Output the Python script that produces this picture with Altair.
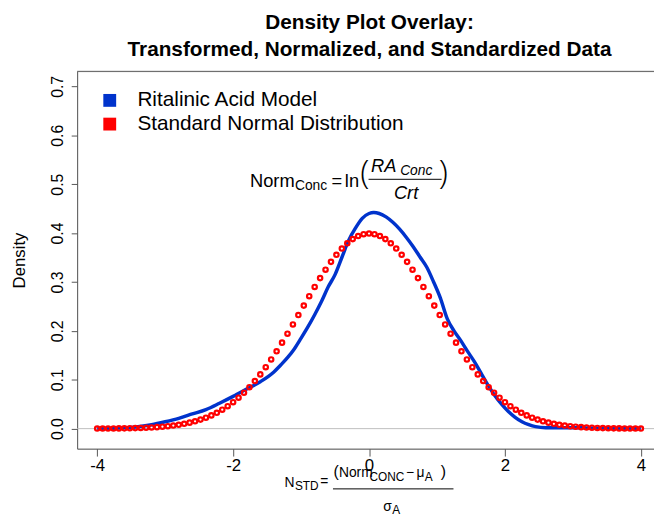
import altair as alt
import pandas as pd

# ---------------- data ----------------
# Standard normal density, sampled at x = -4 .. 4 step 0.08 (red open circles)
norm_x = [round(-4 + 0.08 * i, 2) for i in range(101)]
norm_y = [
    0.00013, 0.00018, 0.00025, 0.00034, 0.00046, 0.00061, 0.00081, 0.00107, 0.00141, 0.00184,
    0.00238, 0.00307, 0.00393, 0.00499, 0.00631, 0.00792, 0.00987, 0.01223, 0.01506, 0.01842,
    0.02239, 0.02705, 0.03246, 0.03871, 0.04586, 0.05399, 0.06316, 0.07340, 0.08477, 0.09728,
    0.11092, 0.12566, 0.14146, 0.15822, 0.17585, 0.19419, 0.21307, 0.23230, 0.25164, 0.27086,
    0.28969, 0.30785, 0.32506, 0.34105, 0.35553, 0.36827, 0.37903, 0.38762, 0.39387, 0.39767,
    0.39894,
    0.39767, 0.39387, 0.38762, 0.37903, 0.36827, 0.35553, 0.34105, 0.32506, 0.30785, 0.28969,
    0.27086, 0.25164, 0.23230, 0.21307, 0.19419, 0.17585, 0.15822, 0.14146, 0.12566, 0.11092,
    0.09728, 0.08477, 0.07340, 0.06316, 0.05399, 0.04586, 0.03871, 0.03246, 0.02705, 0.02239,
    0.01842, 0.01506, 0.01223, 0.00987, 0.00792, 0.00631, 0.00499, 0.00393, 0.00307, 0.00238,
    0.00184, 0.00141, 0.00107, 0.00081, 0.00061, 0.00046, 0.00034, 0.00025, 0.00018, 0.00013,
]

# Ritalinic Acid Model density (blue line)
ra_x = [-4.0, -3.8, -3.6, -3.4, -3.2, -3.0, -2.8, -2.6, -2.4, -2.2, -2.0, -1.8, -1.6, -1.4,
        -1.3, -1.2, -1.1, -1.0, -0.9, -0.8, -0.7, -0.6, -0.5, -0.4, -0.3, -0.2, -0.1, 0.0,
        0.07, 0.15, 0.25, 0.35, 0.45, 0.55, 0.65, 0.75, 0.85, 0.95, 1.05, 1.15, 1.25, 1.35,
        1.45, 1.55, 1.65, 1.75, 1.85, 1.95, 2.05, 2.15, 2.25, 2.35, 2.45, 2.6, 2.8, 3.0,
        3.2, 3.4, 3.6, 4.0]
ra_y = [0.0, 0.0005, 0.0015, 0.004, 0.008, 0.014, 0.021, 0.030, 0.039, 0.052, 0.066, 0.081,
        0.096, 0.116, 0.130, 0.145, 0.163, 0.185, 0.208, 0.233, 0.260, 0.290, 0.315, 0.350,
        0.385, 0.410, 0.430, 0.440, 0.442, 0.440, 0.433, 0.422, 0.408, 0.391, 0.372, 0.351,
        0.330, 0.300, 0.267, 0.225, 0.200, 0.180, 0.158, 0.137, 0.113, 0.089, 0.068, 0.050,
        0.035, 0.023, 0.014, 0.008, 0.004, 0.002, 0.002, 0.002, 0.0015, 0.001, 0.0005, 0.0]

series_names = ["Ritalinic Acid Model", "Standard Normal Distribution"]
series_colors = ["#0033cc", "#ff0000"]
x_ticks = [-4, -2, 0, 2, 4]
y_ticks = [0.0, 0.1, 0.2, 0.3, 0.4, 0.5, 0.6, 0.7]
title_lines = ["Density Plot Overlay:", "Transformed, Normalized, and Standardized Data"]

ra_df = pd.DataFrame({"x": ra_x, "y": ra_y, "series": series_names[0]})
norm_df = pd.DataFrame({"x": norm_x, "y": norm_y, "series": series_names[1]})
legend_df = pd.DataFrame({"series": series_names})

# ---------------- layout ----------------
W, H = 584, 382
FONT = "Liberation Sans"
AX = "#555555"

xscale = alt.Scale(domain=[-4.295, 4.193], nice=False, zero=False)
yscale = alt.Scale(domain=[-0.041, 0.7307], nice=False, zero=False)
cscale = alt.Scale(domain=series_names, range=series_colors)

x_enc = alt.X("x:Q", scale=xscale, axis=alt.Axis(
    values=x_ticks, labelExpr="datum.value + ''", grid=False, title=None,
    labelFontSize=17, labelFont=FONT, labelColor="#000000", labelPadding=2,
    tickSize=7.5, tickColor=AX, domainColor=AX, labelFlush=False))
y_enc = alt.Y("y:Q", scale=yscale, axis=alt.Axis(
    values=y_ticks, format=".1f", grid=False, title="Density",
    labelFontSize=16, labelFont=FONT, labelColor="#000000", labelAngle=270,
    labelAlign="center", labelBaseline="alphabetic", labelPadding=8.5,
    tickSize=6, tickColor=AX, domainColor=AX,
    titleFont=FONT, titleFontSize=17, titleFontWeight="normal", titleColor="#000000",
    titleAngle=270, titleAlign="center", titleBaseline="alphabetic",
    titleX=-53, titleY=H / 2))

zero_line = alt.Chart(alt.Data(values=[{}])).mark_rule(color="#bebebe", strokeWidth=1).encode(
    y=alt.datum(0, scale=yscale))

top_line = alt.Chart(alt.Data(values=[{}])).mark_rule(color=AX, strokeWidth=1).encode(
    x=alt.value(0), x2=alt.value(W), y=alt.value(0))

ra_line = alt.Chart(ra_df).mark_line(strokeWidth=3.5, interpolate="monotone").encode(
    x=x_enc, y=y_enc, color=alt.Color("series:N", scale=cscale, legend=None))

norm_pts = alt.Chart(norm_df).mark_point(shape="circle", filled=False, size=20,
                                         strokeWidth=2.2, opacity=1).encode(
    x="x:Q", y="y:Q", color=alt.Color("series:N", scale=cscale, legend=None))

legend_layer = alt.Chart(legend_df).transform_filter("false").mark_square().encode(
    x="x:Q", y="y:Q",
    fill=alt.Fill("series:N", scale=cscale, legend=alt.Legend(
        title=None, orient="none", legendX=22.5, legendY=18.9, padding=0,
        symbolType="square", symbolSize=169, symbolStrokeWidth=0, symbolOpacity=1,
        labelFont=FONT, labelFontSize=21, labelColor="#000000", labelOffset=17.5,
        rowPadding=2, labelLimit=400)))


def txt(s, x, y, size, style="normal", align="left", weight="normal", font=FONT):
    return alt.Chart(alt.Data(values=[{}])).mark_text(
        text=s, font=font, fontSize=size, fontStyle=style, fontWeight=weight, align=align,
        baseline="alphabetic", color="#000000").encode(x=alt.value(x), y=alt.value(y))


def bar(x1, x2, y):
    return alt.Chart(alt.Data(values=[{}])).mark_rule(color="#000000", strokeWidth=1).encode(
        x=alt.value(x1), x2=alt.value(x2), y=alt.value(y))


title = [
    txt(title_lines[0], 296, -43, 21, align="center", weight="bold"),
    txt(title_lines[1], 296, -16, 21, align="center", weight="bold"),
]

formula = [
    txt("Norm", 175, 117, 18.5),
    txt("Conc", 220.5, 120.5, 14),
    txt("=", 257.5, 117, 18.5),
    txt("ln", 271, 117, 18.5),
    txt("(", 286.5, 114, 34, weight=300, font="Open Sans"),
    txt("RA", 297.5, 101.7, 18.5, "italic"),
    txt("Conc", 327, 105, 14, "italic"),
    bar(295, 369, 109.3),
    txt("Crt", 333, 129.3, 18.5, "italic", "center"),
    txt(")", 366, 114, 34, weight=300, font="Open Sans"),
]

xtitle = [
    txt("N", 210, 421, 14),
    txt("STD", 220.5, 424, 12),
    txt("=", 246, 420, 14),
    txt("(", 259.5, 411, 16),
    txt("Norm", 265, 411, 14),
    txt("CONC", 296, 414.5, 12),
    txt("\u2212", 333, 411, 14),
    txt("\u03bc", 343.5, 411, 14),
    txt("A", 352, 414.5, 12),
    txt(")", 368, 411, 16),
    bar(259, 381, 422.7),
    txt("\u03c3", 310, 445, 14),
    txt("A", 319, 448, 12),
]

chart = alt.layer(
    zero_line, top_line, ra_line, norm_pts, legend_layer, *title, *formula, *xtitle
).resolve_scale(color="shared", fill="independent").properties(
    width=W, height=H,
    autosize=alt.AutoSizeParams(type="none"),
    padding={"left": 70, "top": 61, "right": 0, "bottom": 63},
).configure_view(stroke=None).configure(background="white")

chart.save("out.html", embed_options={"renderer": "svg", "actions": False})
